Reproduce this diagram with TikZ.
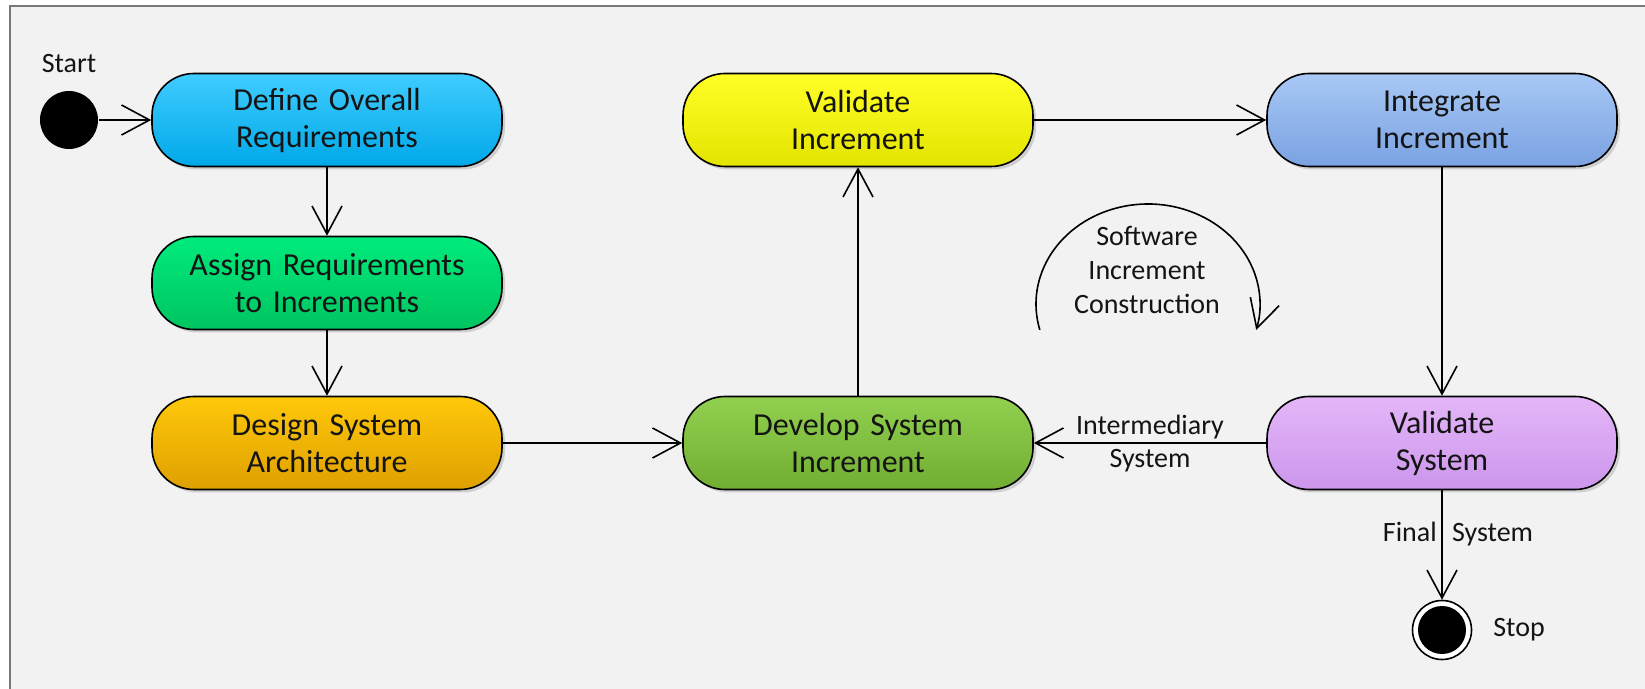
\documentclass[tikz,border=0pt]{standalone}
\usepackage{fontspec}
\setmainfont{Carlito}
\usetikzlibrary{arrows.meta,shadows,positioning}
\definecolor{bgfill}{RGB}{242,242,242}
\definecolor{framecol}{RGB}{120,120,120}
\definecolor{ink}{RGB}{20,20,20}
\definecolor{defT}{RGB}{64,204,255}
\definecolor{defB}{RGB}{0,168,232}
\definecolor{asgT}{RGB}{0,235,125}
\definecolor{asgB}{RGB}{0,196,96}
\definecolor{dsgT}{RGB}{255,200,10}
\definecolor{dsgB}{RGB}{222,160,0}
\definecolor{valT}{RGB}{255,255,40}
\definecolor{valB}{RGB}{228,228,0}
\definecolor{devT}{RGB}{146,208,80}
\definecolor{devB}{RGB}{112,173,50}
\definecolor{itgT}{RGB}{168,200,245}
\definecolor{itgB}{RGB}{122,162,226}
\definecolor{vsysT}{RGB}{228,182,248}
\definecolor{vsysB}{RGB}{204,150,236}
\tikzstyle{act}=[draw,line width=1.6pt,rounded corners=42pt,minimum width=350pt,minimum height=93pt,text width=330pt,text centered,text=ink,font=\fontsize{32}{37}\selectfont,drop shadow={shadow xshift=3pt,shadow yshift=-3pt,opacity=.3}]
\tikzstyle{lbl}=[text=ink,align=center,font=\fontsize{28}{33}\selectfont]
\tikzstyle{startnode}=[circle,fill=black,minimum size=58pt,inner sep=0pt]
\tikzstyle{stopnode}=[circle,draw,line width=1.6pt,fill=white,minimum size=59pt,inner sep=0pt,path picture={\fill[black] (path picture bounding box.center) circle (24pt);}]

\begin{document}
\begin{tikzpicture}[
      x=1pt,y=1pt,
      >={Straight Barb[length=28pt,width=30pt]},
      line width=1.6pt
    ]
      \useasboundingbox (0,0) rectangle (1645,688);
      % background panel
      \fill[bgfill] (10,-10) rectangle (1660,682);
      \draw[framecol,line width=2pt] (10,-10) -- (10,682) -- (1660,682);

      \node [act,top color=defT,bottom color=defB] (def) at (327,568) {Define Overall\\Requirements};
      \node [act,top color=asgT,bottom color=asgB] (asg) [node distance=163pt,below of=def] {Assign Requirements\\to Increments};
      \node [act,top color=dsgT,bottom color=dsgB] (dsg) [node distance=160pt,below of=asg] {Design System\\Architecture};
      \node [act,top color=devT,bottom color=devB] (dev) [node distance=531pt,right of=dsg] {Develop System\\Increment};
      \node [act,top color=valT,bottom color=valB] (val) [node distance=323pt,above of=dev] {Validate\\Increment};
      \node [act,top color=itgT,bottom color=itgB] (itg) [node distance=584pt,right of=val] {Integrate\\Increment};
      \node [act,top color=vsysT,bottom color=vsysB] (vsys) [node distance=323pt,below of=itg] {Validate\\System};

      \node [startnode] (start) [node distance=258pt,left of=def] {};
      \node [lbl] (startlbl) [node distance=56pt,above of=start] {Start};
      \node [stopnode] (stop) [node distance=187pt,below of=vsys] {};
      \node [lbl] (stoplbl) [node distance=77pt,right of=stop] {Stop};

      \draw[->] (start) -- (def);
      \draw[->] (def) -- (asg);
      \draw[->] (asg) -- (dsg);
      \draw[->] (dsg) -- (dev);
      \draw[->] (dev) -- (val);
      \draw[->] (val) -- (itg);
      \draw[->] (itg) -- (vsys);
      \draw[->] (vsys) -- (dev) node[lbl,midway,yshift=-1pt] {Intermediary\\System};
      \draw[->] (vsys) -- (stop) node[lbl,pos=0.4,xshift=16pt] {Final \hspace{9pt}System};

      % loop around the increment cycle
      \coordinate (loopc) at (1148,384);
      \node [lbl,font=\fontsize{28}{34}\selectfont] (looplbl) at (1147,418) {Software\\Increment\\Construction};
      \draw[->] (loopc) ++(195:112pt and 100pt) arc[start angle=195,end angle=-15,x radius=112pt,y radius=100pt];
    \end{tikzpicture}
\end{document}
